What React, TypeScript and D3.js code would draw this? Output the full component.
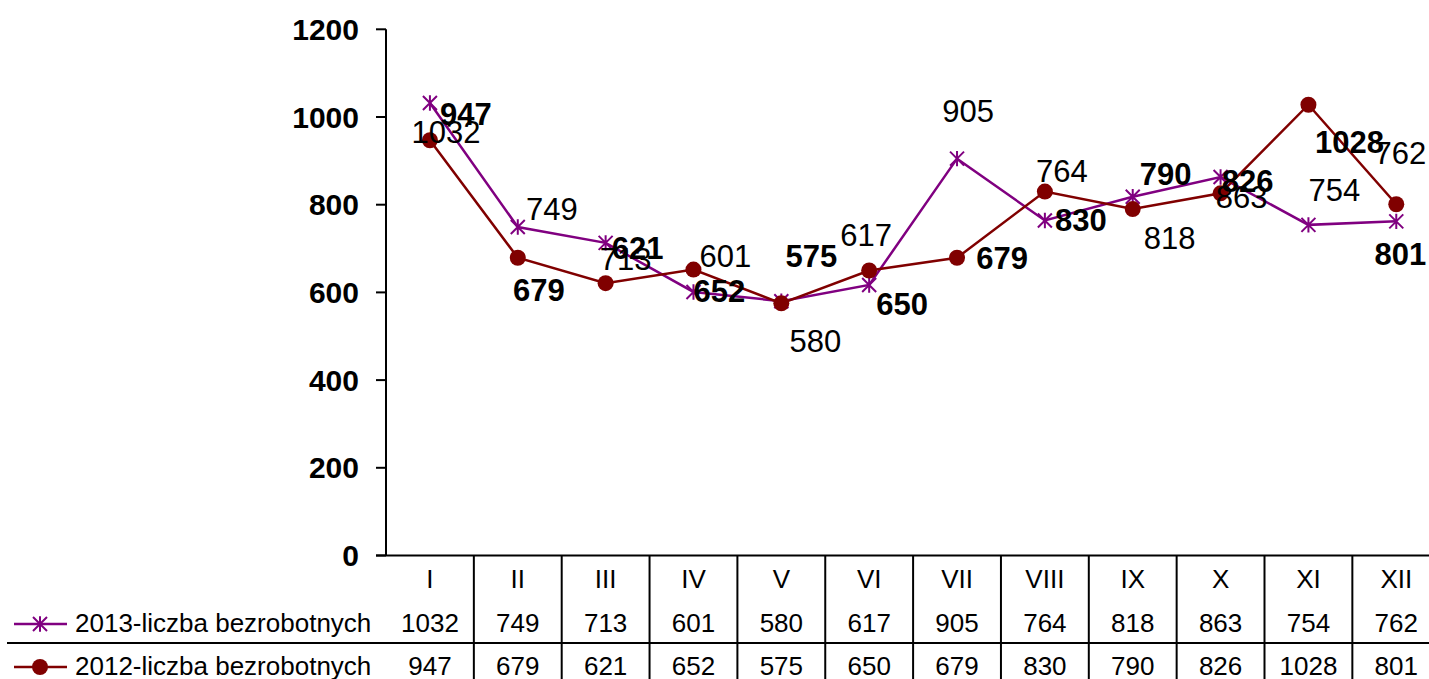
import React from "react";
import * as d3 from "d3";

const categories = ["I", "II", "III", "IV", "V", "VI", "VII", "VIII", "IX", "X", "XI", "XII"];
const series2013 = [1032, 749, 713, 601, 580, 617, 905, 764, 818, 863, 754, 762];
const series2012 = [947, 679, 621, 652, 575, 650, 679, 830, 790, 826, 1028, 801];
const yTicks = [0, 200, 400, 600, 800, 1000, 1200];
const seriesNames = ["2013-liczba bezrobotnych", "2012-liczba bezrobotnych"];

// label offsets (layout, px) relative to each point, label centre
const dx2013 = [16, 34, 20, 32, 34, -3, 11, 17, 37, 21, 26, 4];
const dy2013 = [30, -18, 17, -35, 40, -49, -47, -49, 42, 20, -34, -68];
const dx2012 = [36, 21, 32, 26, 30, 33, 45, 36, 33, 27, 41, 4];
const dy2012 = [-26, 33, -35, 22, -47, 34, 1, 29, -35, -12, 38, 50];

const W = 1429;
const H = 679;
const left = 386;
const colW = 87.85;
const right = left + colW * 12;
const top = 29.3;
const bottom = 555.5;

const PURPLE = "#800080";
const RED = "#800000";
const FONT = "Arial, 'Liberation Sans', Helvetica, sans-serif";

const starPath = (s: number) =>
  `M${-s},${-s}L${s},${s}M${-s},${s}L${s},${-s}M0,${-s * 1.1}L0,${s * 1.1}`;

export default function App() {
  const x = d3.scaleBand<string>().domain(categories).range([left, right]);
  const cx = (c: string) => (x(c) as number) + x.bandwidth() / 2;
  const y = d3.scaleLinear().domain([0, 1200]).range([bottom, top]);

  const line = d3
    .line<number>()
    .x((_, i) => cx(categories[i]))
    .y((d) => y(d));

  const row1 = 579;
  const row2 = 623;
  const row3 = 666;
  const rowLine = 643;

  return (
    <svg
      width={W}
      height={H}
      style={{ position: "absolute", left: 0, top: 0, background: "#fff" }}
      fontFamily={FONT}
    >
      {/* y axis */}
      <line x1={left} x2={left} y1={top} y2={bottom} stroke="#000" strokeWidth={2} />
      {yTicks.map((t) => (
        <g key={t}>
          <line x1={left - 10} x2={left} y1={y(t)} y2={y(t)} stroke="#000" strokeWidth={2} />
          <text
            x={359}
            y={y(t)}
            textAnchor="end"
            dominantBaseline="central"
            fontSize={30}
            fontWeight="bold"
          >
            {t}
          </text>
        </g>
      ))}
      {/* bottom line / table top */}
      <line x1={left - 10} x2={right} y1={bottom} y2={bottom} stroke="#000" strokeWidth={2} />
      {/* table vertical lines */}
      {categories.slice(1).map((c) => (
        <line
          key={c}
          x1={x(c) as number}
          x2={x(c) as number}
          y1={bottom}
          y2={H}
          stroke="#000"
          strokeWidth={2}
        />
      ))}
      <line x1={7} x2={right} y1={rowLine} y2={rowLine} stroke="#000" strokeWidth={2} />
      {/* table text */}
      {categories.map((c, i) => (
        <g key={c} fontSize={26}>
          <text x={cx(c)} y={row1} textAnchor="middle" dominantBaseline="central">
            {c}
          </text>
          <text x={cx(c)} y={row2} textAnchor="middle" dominantBaseline="central">
            {series2013[i]}
          </text>
          <text x={cx(c)} y={row3} textAnchor="middle" dominantBaseline="central">
            {series2012[i]}
          </text>
        </g>
      ))}
      {/* legend */}
      <line x1={14} x2={67} y1={row2 + 1} y2={row2 + 1} stroke={PURPLE} strokeWidth={2.5} />
      <path d={starPath(7)} transform={`translate(40,${row2 + 1})`} stroke={PURPLE} strokeWidth={2} fill="none" />
      <text x={75} y={row2} dominantBaseline="central" fontSize={26}>
        {seriesNames[0]}
      </text>
      <line x1={14} x2={67} y1={row3 + 1} y2={row3 + 1} stroke={RED} strokeWidth={2.5} />
      <circle cx={40} cy={row3 + 1} r={8} fill={RED} />
      <text x={75} y={row3} dominantBaseline="central" fontSize={26}>
        {seriesNames[1]}
      </text>

      {/* 2013 series */}
      <path d={line(series2013) || ""} fill="none" stroke={PURPLE} strokeWidth={2.5} />
      {series2013.map((v, i) => (
        <path
          key={i}
          d={starPath(7)}
          transform={`translate(${cx(categories[i])},${y(v)})`}
          stroke={PURPLE}
          strokeWidth={2}
          fill="none"
        />
      ))}
      {/* 2012 series */}
      <path d={line(series2012) || ""} fill="none" stroke={RED} strokeWidth={2.5} />
      {series2012.map((v, i) => (
        <circle key={i} cx={cx(categories[i])} cy={y(v)} r={8} fill={RED} />
      ))}

      {/* data labels */}
      {series2013.map((v, i) => (
        <text
          key={"l13" + i}
          x={cx(categories[i]) + dx2013[i]}
          y={y(v) + dy2013[i]}
          textAnchor="middle"
          dominantBaseline="central"
          fontSize={31}
        >
          {v}
        </text>
      ))}
      {series2012.map((v, i) => (
        <text
          key={"l12" + i}
          x={cx(categories[i]) + dx2012[i]}
          y={y(v) + dy2012[i]}
          textAnchor="middle"
          dominantBaseline="central"
          fontSize={31}
          fontWeight="bold"
        >
          {v}
        </text>
      ))}
    </svg>
  );
}
